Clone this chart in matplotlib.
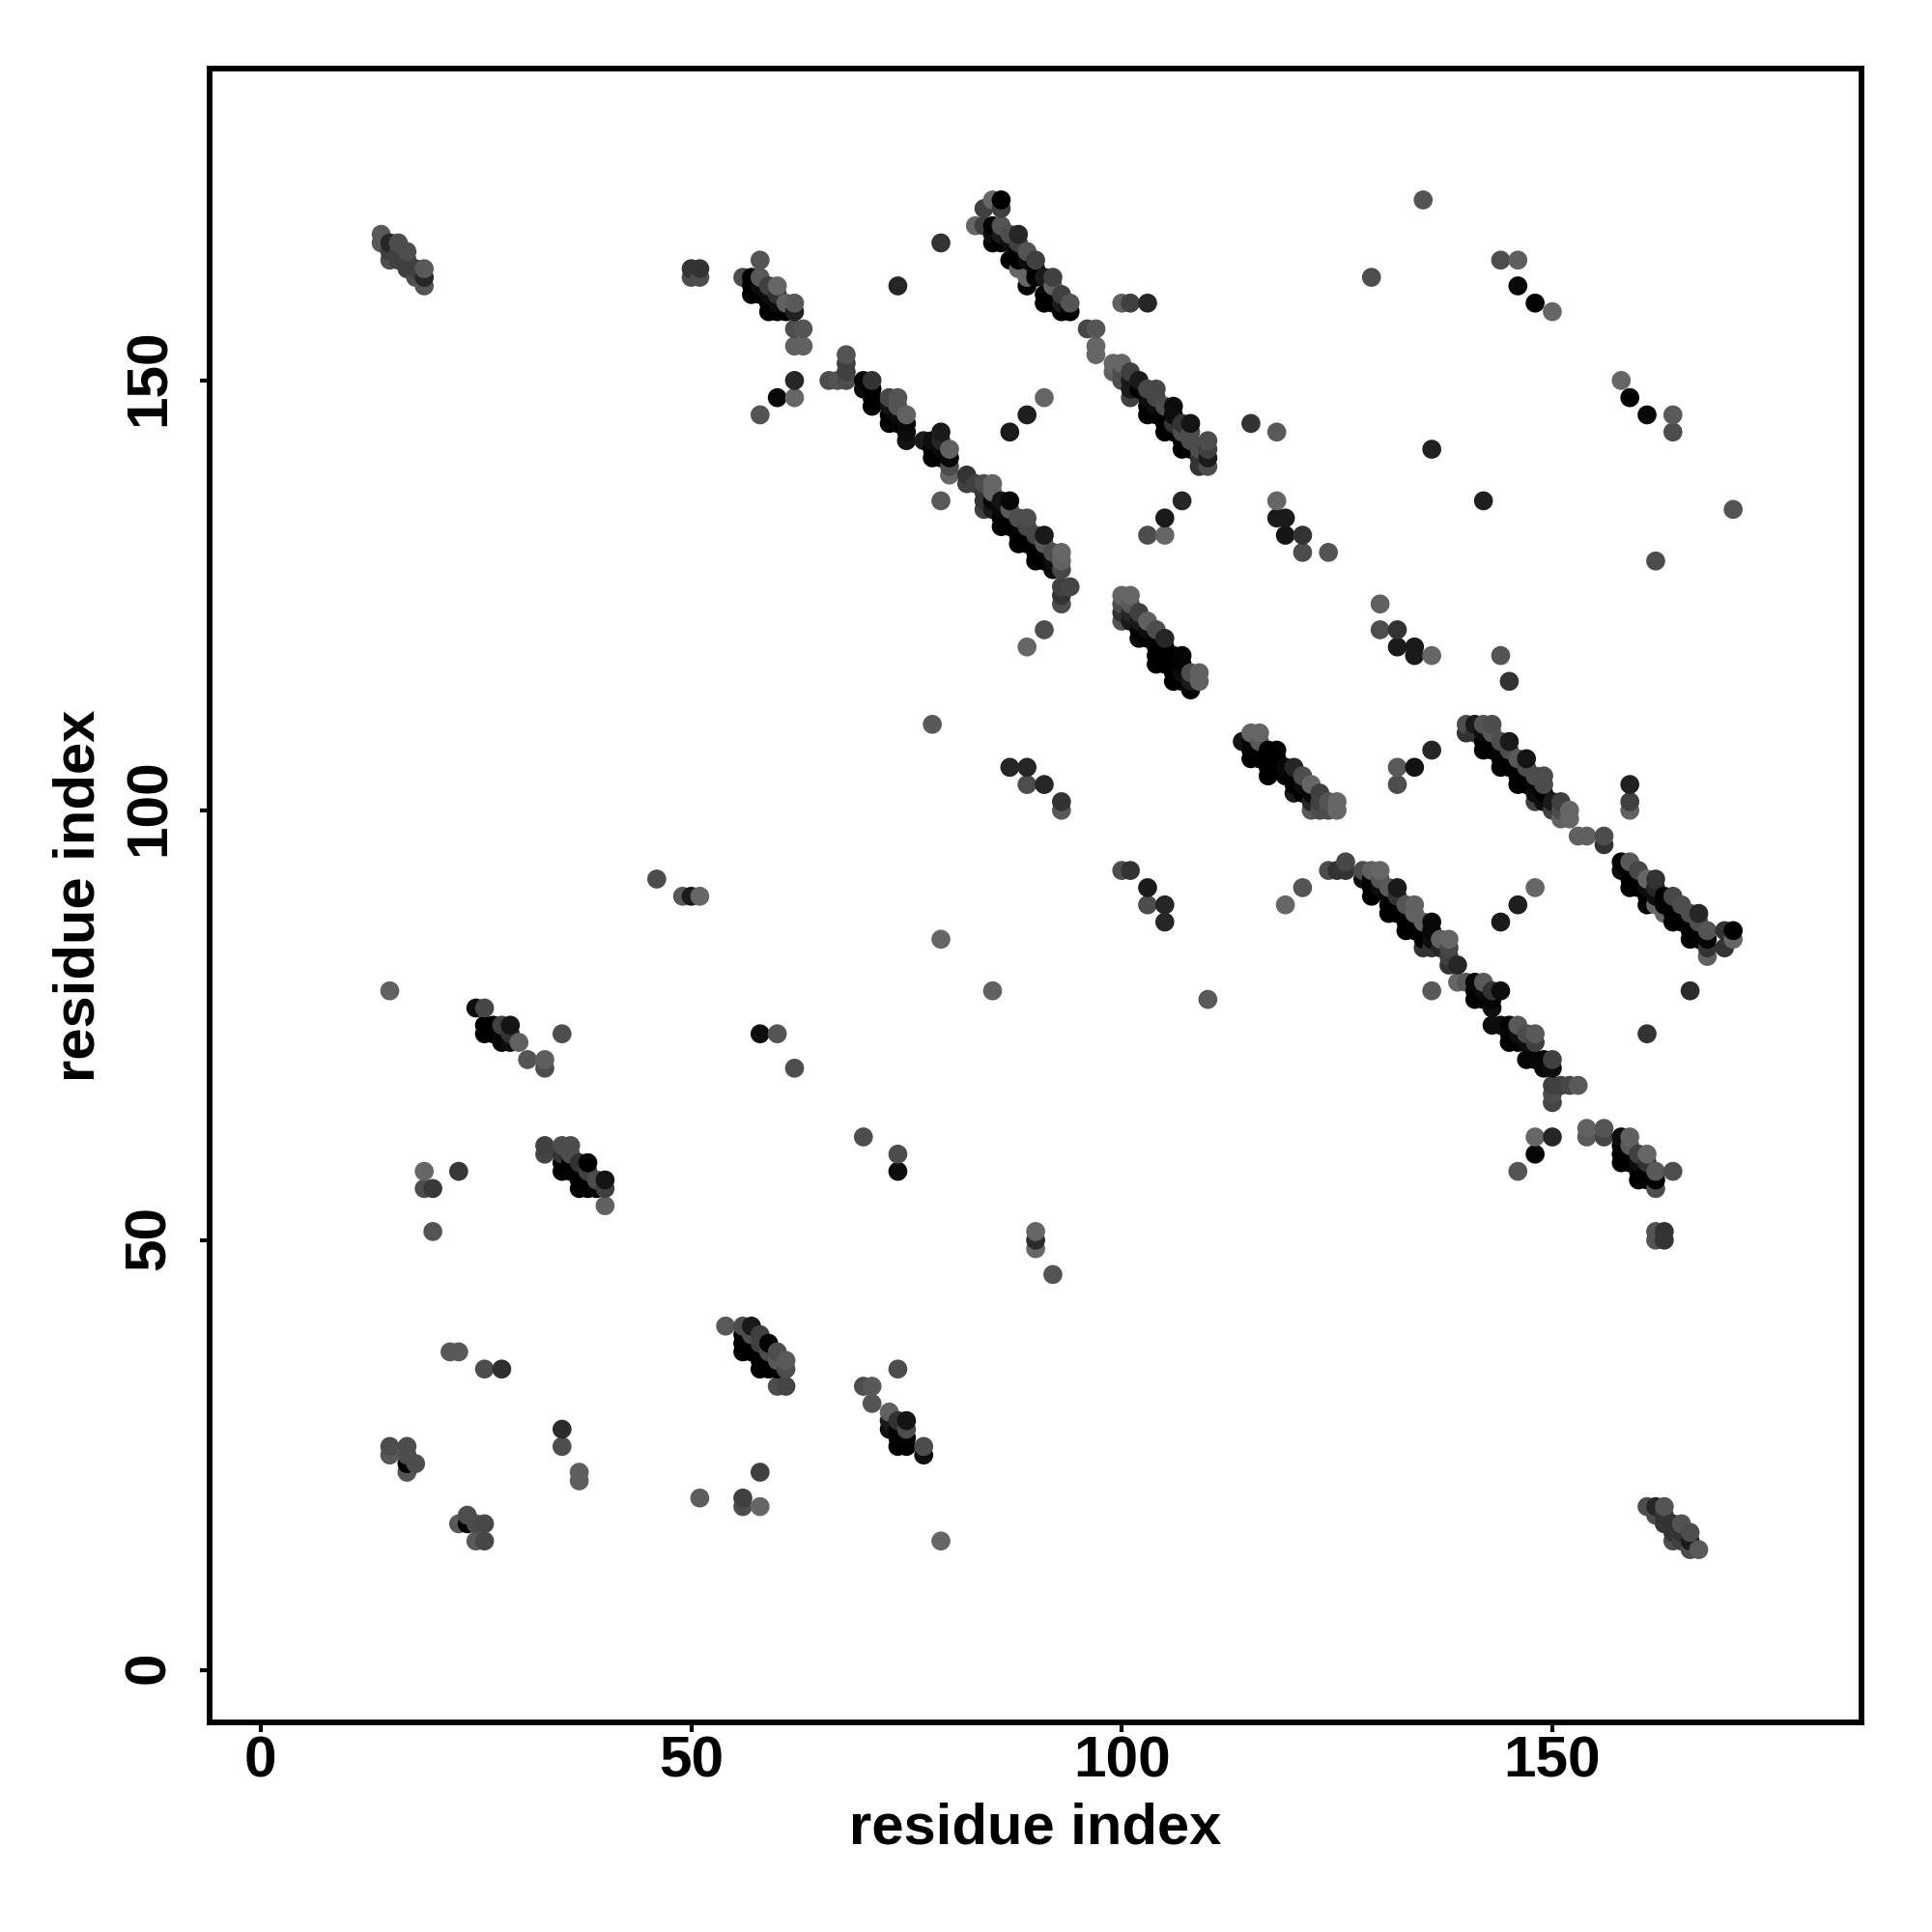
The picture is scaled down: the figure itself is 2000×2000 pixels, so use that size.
import numpy as np
import matplotlib
matplotlib.use("Agg")
import matplotlib.pyplot as plt
from matplotlib.transforms import ScaledTranslation

plt.rcParams['font.family'] = ['Liberation Sans', 'DejaVu Sans']

# every contact: (residue i, residue j, grey level of the point)
block_a = [(14,167,.35),(14,166,.35),(15,166,.15),(16,166,.3),(15,165,.25),(16,165,.25),(15,164,.3),(16,164,.25),
           (17,165,.3),(17,164,.25),(17,163,.25),(18,163,.25),(18,162,.3),(19,162,.15),(19,161,.33),(19,163,.35)]
block_b = [(50,163,.2),(51,163,.2),(50,162,.3),(51,162,.3),(58,164,.33),(56,162,.3),(57,162,0),(58,162,.35),
           (57,161,0),(57,160,0),(58,161,.05),(58,160,0),(59,161,.25),(60,161,.4),(59,160,.05),(60,160,.2),
           (59,158,0),(59,159,0),(60,158,0),(60,159,.05),(61,159,.38),(62,159,.35),(61,158,0),(62,158,.13),
           (62,156,.3),(63,156,.33),(62,154,.38),(63,154,.38),(62,150,.15),(62,148,.4),(60,148,.03),(58,146,.33),
           (74,161,.15),(79,166,.2)]
block_c = [(85,171,.4),(86,171,0),(84,170,.25),(86,170,.25),(83,168,.4),(84,168,.25),(85,168,0),(86,168,.33),
           (88,167,.15),(87,167,.3),(85,167,.05),(85,166,0),(86,167,.1),(86,166,0),(87,166,.05),(88,166,.25),
           (89,165,.33),(87,164,0),(88,165,0),(88,164,0),(90,164,.25),(89,164,.05),(88,163,.4),(89,162,.4),
           (89,161,0),(90,162,0),(90,163,0),(91,162,.1),(92,162,.25),(92,161,.38),(91,159,0),(92,159,0),
           (91,160,0),(92,160,0),(93,158,0),(94,158,0),(93,160,.25),(94,159,.33),(93,159,.1),
           (96,156,.27),(97,156,.33),(97,154,.4),(97,153,.4),(100,159,.38),(101,159,.25),(103,159,.15)]
block_d = [(99,152,.4),(100,152,.4),(99,151,.38),(100,150,.3),(100,151,.3),(101,151,.25),(101,150,.1),(101,148,.25),(101,149,.1),
           (102,149,0),(103,149,.28),(104,149,.28),(102,150,.1),(103,148,.05),(103,146,0),(103,147,0),(104,148,.28),(105,147,.3),
           (106,147,.05),(104,147,.05),(104,146,0),(105,146,0),(105,144,0),(105,145,0),(106,146,.05),(106,145,.2),(108,145,.08),(107,145,.2),
           (107,144,.3),(107,142,0),(107,143,0),(106,144,0),(108,143,.3),(108,142,0),(108,144,.3),(109,141,.2),(109,140,.2),
           (110,143,.3),(110,142,.25),(110,141,.1),(110,140,.3),(109,142,.3),(87,144,.1),(89,146,.12),(91,148,.4),
           (115,145,.2),(118,144,.35)]
block_e = [(68,153,.33),(68,152,.25),(68,151,.25),(66,150,.3),(67,150,.33),(68,150,.3),(70,150,.02),(71,150,.2),
           (70,149,.05),(71,149,0),(71,148,0),(71,147,0),(73,145,0),(73,148,.28),(74,148,.33),(75,146,.38),
           (73,147,.08),(73,146,0),(74,147,.33),(74,146,.05),(74,145,0),(75,145,.03),(75,144,.05),(75,143,.08),
           (77,143,.1),(78,143,.05),(78,141,.02),(78,142,0),(79,144,.1),(79,143,.15),(79,142,.03),(79,141,0),
           (80,142,.38),(80,141,.03),(80,140,.3),(80,139,.4),(79,136,.35)]
block_f = [(82,139,.2),(82,138,.25),(83,138,.25),(84,138,.3),(85,138,.4),(85,137,.4),(84,137,.2),(84,136,.2),
           (84,135,.25),(86,136,.08),(87,136,.02),(85,136,.03),(86,135,.03),(87,135,.35),(86,133,0),(86,134,0),
           (85,135,.1),(88,134,.3),(89,134,.3),(88,133,.02),(87,134,0),(87,133,0),(88,131,0),(88,132,0),
           (89,133,.28),(90,132,.28),(91,132,.1),(89,132,0),(89,131,0),(90,131,0),(90,129,0),(90,130,0),
           (91,131,.35),(91,130,0),(91,129,0),(92,130,.3),(92,129,.05),(92,128,.03),(93,130,.4),(93,129,.38),
           (93,128,.28),(93,126,.25),(94,126,.27),(93,125,.2),(93,124,.3),(91,121,.3),(89,119,.4),
           (107,136,.15),(105,134,.1),(103,132,.3),(105,132,.4)]
block_g = [(100,125,.4),(101,125,.4),(100,124,.3),(100,123,.2),(100,122,.33),(101,124,.35),(101,123,.15),(102,123,.25),
           (103,122,.38),(104,121,.3),(105,120,.15),(102,120,.05),(101,122,.1),(102,122,.1),(102,121,0),(103,121,.05),(103,120,0),
           (104,120,0),(104,117,.02),(104,119,0),(104,118,0),(105,119,0),(105,118,0),(105,117,0),(106,118,0),
           (107,118,.02),(106,117,0),(106,116,0),(106,115,0),(107,117,0),(107,116,.05),(107,115,0),(108,116,.3),
           (109,116,.38),(108,115,.1),(109,115,.38),(108,114,.02)]
block_h = [(114,108,.08),(115,109,.4),(116,109,.4),(116,108,.35),(115,108,.02),(115,106,0),(115,107,0),(116,107,0),
           (116,106,0),(117,107,0),(118,107,0),(117,106,0),(117,104,0),(117,105,0),(118,106,0),(118,105,0),
           (119,105,.03),(120,105,.15),(119,104,0),(120,103,0),(120,102,.1),(120,104,0),(121,104,.3),(122,103,.4),
           (123,102,.25),(121,103,.05),(121,102,0),(122,102,.03),(122,101,.15),(122,100,.35),(123,101,.25),(123,100,.3),
           (124,101,.33),(124,100,.3),(125,101,.4),(125,100,.4)]
block_i = [(121,91,.33),(119,89,.4),(124,93,.3),(125,93,.2),(126,93,.2),(126,94,.28),(128,93,.3),(129,93,.38),
           (130,93,.4),(128,92,.05),(129,92,0),(129,91,0),(129,90,0),(130,92,.33),(130,91,.05),(131,91,.35),
           (132,91,.1),(131,90,0),(131,89,0),(131,88,0),(132,90,.2),(132,89,0),(132,88,0),(133,89,.33),
           (134,89,.38),(133,88,0),(133,87,0),(133,86,0),(134,88,.38),(134,87,0),(134,86,0),(135,87,.38),
           (136,87,.03),(135,86,0),(135,85,.02),(135,84,.2),(136,86,.03),(136,85,.05),(136,84,.2),(137,85,.38),
           (138,85,.4),(137,84,.15),(138,84,.28),(138,83,.25),(138,82,.2),(139,82,.15),(136,79,.35),
           (144,87,.1),(146,89,.12),(148,91,.4)]
block_j = [(139,80,.4),(140,80,.35),(141,80,.03),(142,80,.35),(141,79,0),(141,78,0),(142,79,.05),(142,78,0),
           (143,79,.2),(144,79,.05),(143,78,.02),(143,77,.05),(143,75,.05),(144,75,.05),(145,75,0),(146,75,.35),
           (147,74,.3),(148,74,.35),(145,74,0),(145,73,0),(146,74,.05),(146,73,0),(147,73,.05),(148,73,.25),
           (147,71,.02),(148,71,.02),(149,71,.02),(150,71,.25),(149,70,.03),(150,70,.05),(150,68,.25),(151,68,.25),
           (152,68,.28),(153,68,.35),(150,67,.3),(150,66,.27),(148,62,.4),(150,62,.15),(148,60,.02),(146,58,.33)]
block_k = [(154,63,.38),(154,62,.35),(156,63,.33),(156,62,.27),(158,62,.05),(159,62,.38),(158,61,0),(158,60,0),
           (158,59,0),(159,61,.35),(159,60,0),(159,59,0),(160,60,.25),(161,60,.4),(160,59,.05),(160,58,0),
           (160,57,0),(161,59,.2),(161,58,0),(161,57,0),(162,58,.35),(162,57,0),(162,56,.3),(164,58,.3),
           (162,51,.33),(163,51,.2),(162,50,.33),(163,50,.2)]
block_l = [(140,110,.3),(140,109,.2),(141,110,.1),(142,110,.33),(143,110,.3),(141,109,.2),(142,109,.05),(143,109,.35),
           (142,108,0),(142,107,0),(143,108,0),(143,107,0),(144,108,.3),(145,108,.1),(144,107,.03),(144,106,0),
           (144,105,0),(145,107,.3),(145,106,0),(145,105,0),(146,106,.35),(147,106,.08),(146,105,0),(146,104,0),
           (146,103,0),(147,105,.3),(147,104,0),(147,103,0),(148,104,.3),(149,104,.3),(148,103,.03),(148,102,.05),
           (148,101,.25),(149,103,.3),(149,102,0),(149,101,.05),(150,101,.1),(151,101,.25),(150,100,.25),(151,100,.3),
           (151,99,.38),(152,100,.4),(152,99,.4),(153,97,.38),(154,97,.38),(156,97,.3),(156,96,.2),
           (159,103,.13),(159,101,.25),(159,100,.38)]
block_m = [(158,94,.02),(159,94,.35),(158,93,.05),(160,93,.28),(161,92,.4),(162,92,.2),(159,93,0),(159,92,0),
           (159,91,0),(160,92,0),(160,91,0),(161,91,.05),(161,90,0),(161,89,0),(162,91,.15),(162,90,.05),
           (162,89,.4),(163,88,.4),(163,90,0),(163,89,.02),(164,90,.28),(165,89,.3),(164,89,0),(164,88,0),
           (164,87,0),(165,88,0),(165,87,0),(166,88,.3),(167,88,.15),(166,87,0),(166,86,0),(166,85,0),
           (167,87,.3),(167,86,0),(167,85,0),(168,86,.33),(168,85,.02),(168,84,.2),(168,83,.38),(170,86,.2),
           (171,86,0),(171,85,.4),(170,84,.2),(166,79,.17),(161,74,.2)]
block_n = [(135,171,.33),(129,162,.3),(144,164,.3),(146,164,.37),(146,161,.03),(148,159,0),(150,158,.4),
           (158,150,.4),(159,148,0),(161,146,.03),(164,146,.35),(164,144,.3),(136,142,.13),(142,136,.12),
           (171,135,.33),(162,129,.3),(130,124,.38),(130,121,.3),(132,121,.2),(132,119,.1),(134,119,.1),
           (134,118,.1),(136,118,.4),(144,118,.33),(145,115,.2),(136,107,.15),(134,105,.07),(132,105,.35),(132,103,.3),
           (118,136,.4),(118,134,.1),(119,134,.1),(119,132,.08),(121,132,.2),(121,130,.3),(124,130,.33)]
block_o = [(78,110,.35),(87,105,.15),(89,105,.15),(89,103,.3),(91,103,.15),(93,101,.2),(93,100,.35),(100,93,.3),
           (101,93,.2),(103,91,.1),(103,89,.3),(105,89,.15),(105,87,.15),(46,92,.3),(49,90,.35),(50,90,.1),
           (51,90,.4),(79,85,.4),(85,79,.38),(110,78,.35),(15,79,.38)]
block_p = [(25,77,.05),(26,77,.28),(26,75,0),(26,74,0),(27,75,0),(27,74,0),(28,75,.25),(29,75,.08),
           (28,73,.02),(28,74,.02),(29,74,.2),(29,73,.05),(30,73,.38),(31,71,.33),(33,71,.37),(33,70,.3),(35,74,.3)]
block_q = [(33,61,.25),(33,60,.27),(35,61,.3),(36,61,.3),(35,60,.2),(35,59,0),(35,58,0),(36,60,.3),
           (36,59,0),(36,58,0),(37,59,.2),(38,59,0),(37,58,0),(37,57,0),(37,56,0),(38,58,.25),
           (38,57,0),(38,56,0),(39,57,.3),(40,57,.08),(39,56,.02),(40,56,.25),(40,54,.38),
           (19,58,.4),(19,56,.3),(20,56,.22),(23,58,.22),(20,51,.33)]
block_r = [(58,74,.05),(60,74,.33),(62,70,.3),(70,62,.3),(74,60,.3),(74,58,.05),(90,51,.4),(90,50,.17),(90,49,.4),(92,46,.33)]
block_s = [(22,37,.35),(23,37,.35),(26,35,.3),(28,35,.18),(15,26,.3),(15,25,.35),(17,26,.3),(17,25,.3),
           (18,24,.3),(17,24,0),(17,23,.33),(35,28,.17),(35,26,.3),(37,23,.37),(37,22,.37),(24,18,.3),
           (23,17,.35),(24,17,0),(25,17,.3),(26,17,.28),(25,15,.35),(26,15,.28)]
block_t = [(54,40,.35),(56,40,.3),(57,40,.1),(56,39,.02),(57,39,.3),(56,38,0),(56,37,0),(57,38,0),
           (57,37,0),(58,39,.25),(58,38,.25),(59,38,.02),(58,37,0),(58,36,0),(58,35,0),(59,37,.3),(59,36,0),
           (59,35,0),(60,37,.3),(60,36,.35),(61,36,.35),(60,35,0),(61,35,.3),(60,33,.3),(61,33,.27)]
block_u = [(70,33,.3),(71,33,.35),(71,31,.33),(73,30,.38),(73,29,.1),(74,35,.3),(75,29,.08),(74,29,.2),
           (75,28,.3),(73,28,.05),(74,28,0),(74,27,0),(74,26,0),(75,27,0),(75,26,0),(77,26,.3),(77,25,.05),
           (58,23,.25),(51,20,.37),(56,20,.25),(56,19,.3),(58,19,.4),(79,15,.4)]
block_v = [(161,19,.3),(162,19,.15),(163,19,.33),(162,18,.3),(163,18,.2),(163,17,.22),(164,17,.2),(165,17,.33),
           (164,16,.2),(165,16,.2),(166,16,.3),(164,15,.3),(165,15,.25),(166,15,.1),(166,14,.3),(167,14,.35)]

tick_values = [0, 50, 100, 150]
axis_title = "residue index"

blocks = [block_a, block_b, block_c, block_d, block_e, block_f, block_g, block_h, block_i, block_j, block_k,
          block_l, block_m, block_n, block_o, block_p, block_q, block_r, block_s, block_t, block_u, block_v]
arr = np.array([p for b in blocks for p in b], dtype=float)
order = np.lexsort((arr[:, 1], arr[:, 0]))   # drawn column by column, lowest first
arr = arr[order]

W = 2000
fig = plt.figure(figsize=(20, 20), dpi=100, facecolor='white')
ax = fig.add_axes([217/W, (W-1783)/W, (1927-217)/W, (1783-71)/W])
ax.scatter(arr[:, 0], arr[:, 1], s=200, c=[(g, g, g) for g in arr[:, 2]], linewidths=0, zorder=3, clip_on=False)
ax.set_xlim(-5.92, 185.9)
ax.set_ylim(-6.1, 186.28)
ax.set_xticks(tick_values)
ax.set_yticks(tick_values)
ax.set_xticklabels([str(v) for v in tick_values], fontsize=43.5, fontweight='bold')
ax.set_yticklabels([str(v) for v in tick_values], fontsize=43.5, fontweight='bold', rotation=90, va='center')
ax.tick_params(axis='both', length=7, width=3, color='black')
ax.tick_params(axis='x', pad=3)
ax.tick_params(axis='y', pad=18)
up = ScaledTranslation(0, 2/72, fig.dpi_scale_trans)
for lab in ax.get_yticklabels():
    lab.set_transform(lab.get_transform() + up)
for s in ax.spines.values():
    s.set_linewidth(4.2)
ax.set_xlabel(axis_title, fontsize=43, fontweight='bold', labelpad=10)
ax.set_ylabel(axis_title, fontsize=43, fontweight='bold', labelpad=13)
fig.savefig("out.png", dpi=100, facecolor='white')
